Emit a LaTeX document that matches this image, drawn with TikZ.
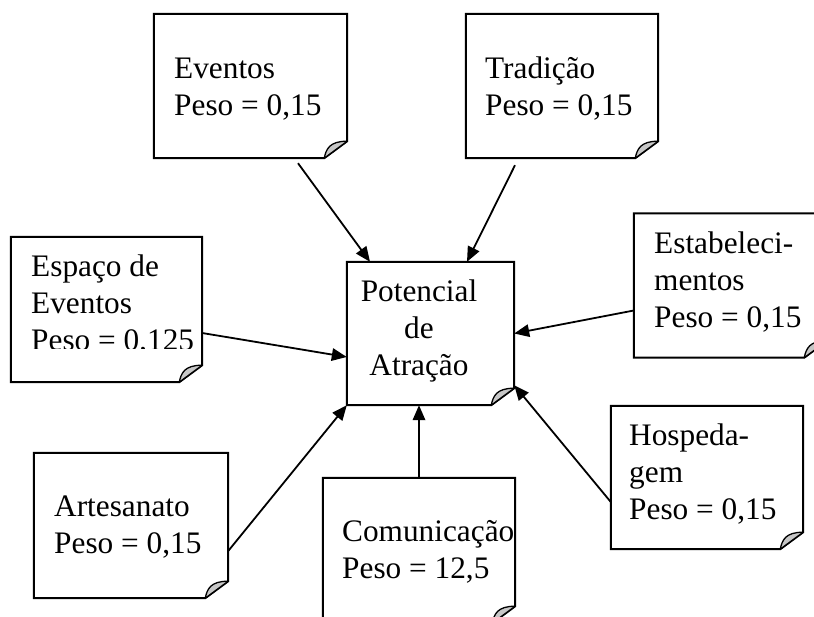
\documentclass[tikz,border=0pt]{standalone}
\usepackage{fontspec}
\setmainfont{Liberation Serif}
\usetikzlibrary{arrows.meta,calc}
\begin{document}
\begin{tikzpicture}[x=1pt,y=-1pt,
  notebox/.style={rectangle,inner sep=0pt,draw=none},
  boxline/.style={line width=2pt,line join=miter},
  foldfill/.style={fill=black!22,draw=black,line width=1.3pt,line join=round},
  txt/.style={inner sep=0pt,align=left,font=\fontsize{31.3}{37}\selectfont},
  arr/.style={line width=1.8pt,-{Triangle[length=15pt,width=12.5pt]}}]
\clip (0,0) rectangle (814,616);
\fill[white] (0,0) rectangle (814,616);
% boxes
\node[notebox,minimum width=193pt,minimum height=144pt] (ev) at (250.5,86) {};
\node[notebox,minimum width=192pt,minimum height=144pt] (tr) at (562,86) {};
\node[notebox,minimum width=191pt,minimum height=145pt] (es) at (106.5,309.5) {};
\node[notebox,minimum width=167pt,minimum height=143pt] (pa) at (430.5,333.5) {};
\node[notebox,minimum width=193pt,minimum height=144pt] (et) at (730.5,285.5) {};
\node[notebox,minimum width=192pt,minimum height=143pt] (ho) at (707,477.5) {};
\node[notebox,minimum width=194pt,minimum height=145pt] (ar) at (131,525.5) {};
\node[notebox,minimum width=192pt,minimum height=145pt] (co) at (419,550.5) {};
\foreach \n in {ev,tr,es,pa,et,ho,ar,co}{
  \fill[white] (\n.north west) -- (\n.north east) -- ([yshift=17pt]\n.south east) -- ([xshift=-23pt]\n.south east) -- (\n.south west) -- cycle;
  \draw[boxline] (\n.north west) -- (\n.north east) -- ([yshift=17pt]\n.south east) -- ([xshift=-23pt]\n.south east) -- (\n.south west) -- cycle;
  \filldraw[foldfill] ([xshift=-23pt]\n.south east) .. controls ([xshift=-21pt,yshift=9pt]\n.south east) and ([xshift=-18pt,yshift=17pt]\n.south east) .. ([yshift=17pt]\n.south east) -- cycle;
}
% texts (anchor = baseline of the last line)
\node[txt,anchor=base west] (evt) at (174,115) {Eventos\\Peso = 0,15};
\node[txt,anchor=base west] (trt) at (485,115) {Tradição\\Peso = 0,15};
\begin{scope}
\clip (0,0) rectangle (814,348);
\node[txt,anchor=base west] (est) at (31,350) {Espaço de\\Eventos\\Peso = 0,125};
\end{scope}
\node[txt,anchor=base,align=center] (pat) at (419,375) {Potencial\\de\\Atração};
\node[txt,anchor=base west] (ett) at (654,327) {Estabeleci-\\mentos\\Peso = 0,15};
\node[txt,anchor=base west] (hot) at (629,519) {Hospeda-\\gem\\Peso = 0,15};
\node[txt,anchor=base west] (art) at (54,553) {Artesanato\\Peso = 0,15};
\node[txt,anchor=base west] (cot) at (342,578) {Comunicação\\Peso = 12,5};
% connectors
\draw[arr] ([xshift=47.5pt,yshift=-5pt]ev.south) -- ([xshift=-60.5pt]pa.north);
\draw[arr] ([xshift=-47pt,yshift=-7pt]tr.south) -- ([xshift=36.5pt]pa.north);
\draw[arr] ([yshift=-23.5pt]es.east) -- ([yshift=-23.5pt]pa.west);
\draw[arr] ([yshift=-25pt]et.west) -- (pa.east);
\draw[arr] ([yshift=-24.5pt]ho.west) -- ([yshift=20pt]pa.south east);
\draw[arr] ([yshift=-25.5pt]ar.east) -- (pa.south west);
\draw[arr] (co.north) -- ([xshift=-11.5pt]pa.south);
\end{tikzpicture}
\end{document}
